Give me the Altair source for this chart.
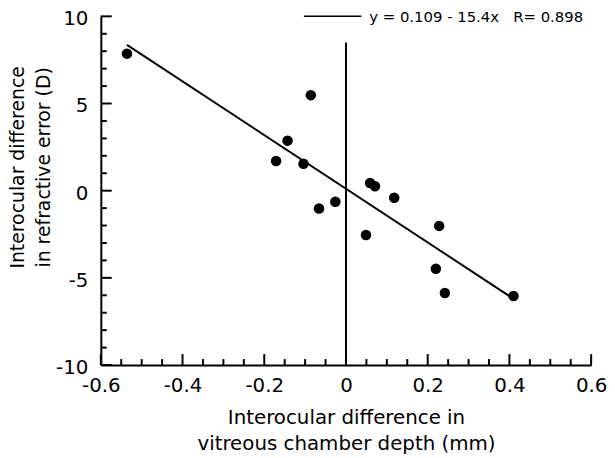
import altair as alt
import pandas as pd

# ---- data ----
vcd_diff = [-0.536, -0.086, -0.143, -0.171, -0.104, -0.066, -0.026, 0.059,
            0.071, 0.118, 0.049, 0.228, 0.220, 0.242, 0.410]
re_diff = [7.86, 5.48, 2.87, 1.70, 1.55, -1.02, -0.64, 0.44,
           0.25, -0.41, -2.54, -2.02, -4.48, -5.87, -6.04]

fit_x = [-0.536, 0.410]
fit_y = [8.36, -6.20]

zero_line_x = [0.0]
zero_line_y0 = [-10.0]
zero_line_y1 = [8.5]

x_major = [-0.6, -0.4, -0.2, 0, 0.2, 0.4, 0.6]
y_major = [-10, -5, 0, 5, 10]
x_minor = [-0.55, -0.5, -0.45, -0.35, -0.3, -0.25, -0.15, -0.1, -0.05,
           0.05, 0.1, 0.15, 0.25, 0.3, 0.35, 0.45, 0.5, 0.55]
y_minor = [-9, -8, -7, -6, -4, -3, -2, -1, 1, 2, 3, 4, 6, 7, 8, 9]
x_min, y_min = -0.6, -10

legend_label = "y = 0.109 - 15.4x\u00a0\u00a0\u00a0R= 0.898"
x_title = ["Interocular difference in", "vitreous chamber depth (mm)"]
y_title = ["Interocular difference", "in refractive error (D)"]

FONT = "DejaVu Sans"
W, H = 495, 352
TICK_COLOR = "black"
MAJOR_LEN, MINOR_LEN, TICK_W = 11, 6, 2

xs = alt.Scale(domain=[-0.6, 0.6], nice=False, zero=False)
ys = alt.Scale(domain=[-10, 10], nice=False, zero=False)

x_axis = alt.Axis(values=x_major, labelExpr="datum.value + ''", title=x_title,
                  ticks=False, tickSize=0, grid=False, domainWidth=2,
                  domainColor="black", labelFont=FONT, labelFontSize=20,
                  labelColor="black", labelPadding=11, labelFlush=False,
                  labelOverlap=False, titleFont=FONT, titleFontSize=20,
                  titleFontWeight="normal", titleColor="black", titleY=59,
                  titleBaseline="alphabetic", titleLineHeight=26.5)
y_axis = alt.Axis(values=y_major, labelExpr="datum.value + ''", title=y_title,
                  ticks=False, tickSize=0, grid=False, domainWidth=2,
                  domainColor="black", labelFont=FONT, labelFontSize=20,
                  labelColor="black", labelPadding=13, labelFlush=False,
                  labelOffset=2.5,
                  labelOverlap=False, titleFont=FONT, titleFontSize=19,
                  titleFontWeight="normal", titleColor="black", titleX=-78,
                  titleY=152, titleAngle=270, titleAlign="center",
                  titleBaseline="alphabetic", titleLineHeight=26)

pts = pd.DataFrame({"x": vcd_diff, "y": re_diff})
points = alt.Chart(pts).mark_circle(size=113, color="black", opacity=1).encode(
    x=alt.X("x:Q", scale=xs, axis=x_axis),
    y=alt.Y("y:Q", scale=ys, axis=y_axis),
)

fit = alt.Chart(pd.DataFrame({"x": fit_x, "y": fit_y})).mark_line(
    color="black", strokeWidth=2).encode(x=alt.X("x:Q", scale=xs),
                                         y=alt.Y("y:Q", scale=ys))

zline = alt.Chart(pd.DataFrame({"x": zero_line_x, "y": zero_line_y0,
                                "y2": zero_line_y1})).mark_rule(
    color="black", strokeWidth=2).encode(x=alt.X("x:Q", scale=xs),
                                         y=alt.Y("y:Q", scale=ys), y2="y2:Q")


def x_ticks(vals, length):
    df = pd.DataFrame({"tx": vals, "ty0": [y_min] * len(vals)})
    return alt.Chart(df).mark_rule(color=TICK_COLOR, strokeWidth=TICK_W,
                                   y2Offset=-length).encode(
        x=alt.X("tx:Q", scale=xs), y=alt.Y("ty0:Q", scale=ys), y2="ty0:Q")


def y_ticks(vals, length):
    df = pd.DataFrame({"ty": vals, "tx0": [x_min] * len(vals)})
    return alt.Chart(df).mark_rule(color=TICK_COLOR, strokeWidth=TICK_W,
                                   x2Offset=length).encode(
        y=alt.Y("ty:Q", scale=ys), x=alt.X("tx0:Q", scale=xs), x2="tx0:Q")


leg = pd.DataFrame({"label": [legend_label]})
leg_line = alt.Chart(leg).mark_rule(color="black", strokeWidth=1.5).encode(
    x=alt.value(205), x2=alt.value(263), y=alt.value(0))
leg_text = alt.Chart(leg).mark_text(font=FONT, fontSize=15, align="left",
                                    baseline="alphabetic", color="black").encode(
    x=alt.value(271), y=alt.value(5.5), text="label:N")

chart = alt.layer(points, fit, zline,
                  x_ticks(x_minor, MINOR_LEN), x_ticks(x_major, MAJOR_LEN),
                  y_ticks(y_minor, MINOR_LEN), y_ticks(y_major, MAJOR_LEN),
                  leg_line, leg_text).properties(
    width=W, height=H,
    autosize=alt.AutoSizeParams(type="none"),
    padding={"left": 93.7, "top": 6.3, "right": 16, "bottom": 88},
).configure_view(stroke=None)

chart.save("out.html", embed_options={"renderer": "svg", "actions": False})
